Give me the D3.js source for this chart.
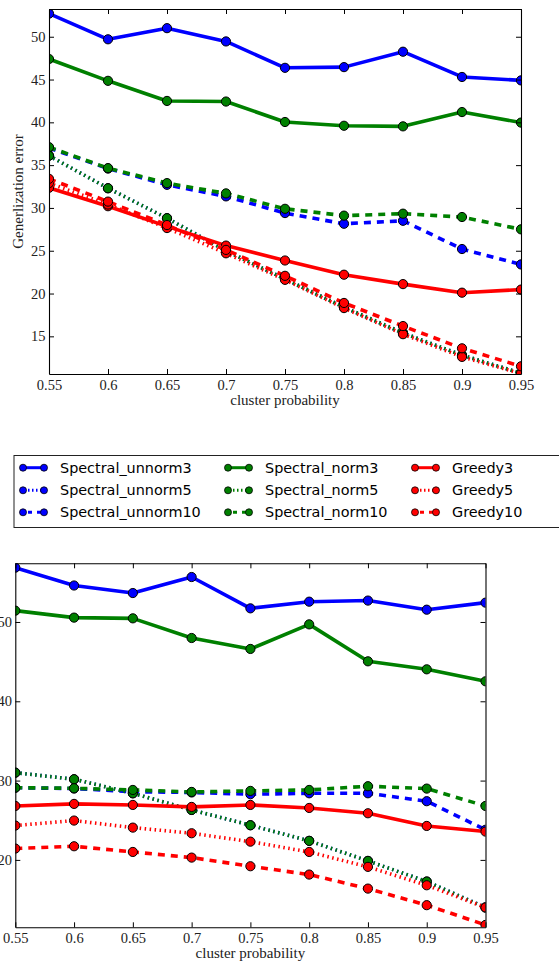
<!DOCTYPE html>
<html>
<head>
<meta charset="utf-8">
<script src="https://cdn.jsdelivr.net/npm/d3@7"></script>
<style>
html, body { margin: 0; padding: 0; background: #fff; }
svg { display: block; }
</style>
</head>
<body>
<svg id="chart" width="559" height="964"></svg>
<script>
// ---------- data ----------
const probs = [0.55, 0.6, 0.65, 0.7, 0.75, 0.8, 0.85, 0.9, 0.95];
const xTickLabels = ["0.55", "0.6", "0.65", "0.7", "0.75", "0.8", "0.85", "0.9", "0.95"];
const topYTicks = [15, 20, 25, 30, 35, 40, 45, 50];
const bottomYTicks = [20, 30, 40, 50];
const seriesNames = ["Spectral_unnorm3", "Spectral_unnorm5", "Spectral_unnorm10",
                     "Spectral_norm3", "Spectral_norm5", "Spectral_norm10",
                     "Greedy3", "Greedy5", "Greedy10"];

// top panel
const topUnnorm3  = [52.7, 49.7, 51.0, 49.45, 46.37, 46.45, 48.25, 45.3, 44.9];
const topUnnorm5  = [36.1, 32.3, 28.8, 25.0, 21.7, 18.4, 15.4, 12.8, 10.7];
const topUnnorm10 = [37.0, 34.6, 32.7, 31.35, 29.4, 28.15, 28.5, 25.2, 23.4];
const topNorm3    = [47.4, 44.85, 42.5, 42.43, 40.04, 39.6, 39.53, 41.2, 39.97];
const topNorm5    = [36.1, 32.3, 28.8, 25.0, 21.7, 18.4, 15.4, 12.8, 10.7];
const topNorm10   = [37.1, 34.65, 32.9, 31.7, 29.9, 29.1, 29.33, 28.94, 27.5];
const topGreedy3  = [32.35, 30.2, 27.85, 25.6, 23.86, 22.2, 21.1, 20.1, 20.46];
const topGreedy5  = [32.9, 30.4, 27.65, 24.7, 21.6, 18.3, 15.25, 12.6, 10.65];
const topGreedy10 = [33.4, 30.74, 28.0, 25.1, 22.07, 18.9, 16.2, 13.6, 11.5];

// bottom panel
const botUnnorm3  = [56.85, 54.6, 53.65, 55.67, 51.72, 52.56, 52.7, 51.55, 52.44];
const botUnnorm5  = [31.0, 30.17, 28.4, 26.3, 24.37, 22.4, 19.87, 17.27, 14.0];
const botUnnorm10 = [29.1, 29.0, 28.6, 28.5, 28.28, 28.4, 28.4, 27.4, 23.8];
const botNorm3    = [51.43, 50.55, 50.46, 47.98, 46.6, 49.7, 45.04, 44.03, 42.52];
const botNorm5    = [31.0, 30.17, 28.4, 26.3, 24.37, 22.4, 19.87, 17.27, 14.0];
const botNorm10   = [29.1, 29.03, 28.82, 28.57, 28.7, 28.82, 29.29, 28.99, 26.8];
const botGreedy3  = [26.8, 27.06, 26.93, 26.68, 26.93, 26.55, 25.88, 24.28, 23.57];
const botGreedy5  = [24.33, 24.96, 24.07, 23.36, 22.3, 21.0, 19.12, 16.8, 14.0];
const botGreedy10 = [21.43, 21.72, 21.0, 20.29, 19.2, 18.15, 16.38, 14.29, 11.8];

// ---------- styles ----------
const seriesColors = ["#0000ff", "#0000ff", "#0000ff", "#008000", "#008000", "#008000", "#ff0000", "#ff0000", "#ff0000"];
const seriesDash = [null, "1.5,3.5", "7,6", null, "1.5,3.5", "7,6", null, "1.5,3.5", "7,6"];
const serifFont = "'Liberation Serif', 'Times New Roman', serif";
const sansFont = "'DejaVu Sans', sans-serif";

const svg = d3.select("#chart");

function drawPanel(cfg) {
  const x = d3.scaleLinear().domain([0.55, 0.95]).range([cfg.left, cfg.right]);
  const y = d3.scaleLinear().domain(cfg.yDomain).range([cfg.bottom, cfg.top]);
  const g = svg.append("g");

  const clipId = "clip" + cfg.id;
  g.append("clipPath").attr("id", clipId)
    .append("rect")
    .attr("x", cfg.left).attr("y", cfg.top)
    .attr("width", cfg.right - cfg.left).attr("height", cfg.bottom - cfg.top);

  const plot = g.append("g").attr("clip-path", "url(#" + clipId + ")");
  const line = d3.line().x((d, i) => x(probs[i])).y(d => y(d));

  cfg.series.forEach((vals, si) => {
    const s = plot.append("g");
    const p = s.append("path").datum(vals)
      .attr("d", line)
      .attr("fill", "none")
      .attr("stroke", seriesColors[si])
      .attr("stroke-width", 3.6)
      .attr("stroke-linejoin", "round");
    if (seriesDash[si]) p.attr("stroke-dasharray", seriesDash[si]);
    s.selectAll("circle").data(vals).enter().append("circle")
      .attr("cx", (d, i) => x(probs[i]))
      .attr("cy", d => y(d))
      .attr("r", 4.6)
      .attr("fill", seriesColors[si])
      .attr("stroke", "#000")
      .attr("stroke-width", 1);
  });

  const fmt = (d) => xTickLabels[probs.findIndex(p => Math.abs(p - d) < 1e-9)];

  const axB = g.append("g").attr("transform", `translate(0,${cfg.bottom})`)
    .call(d3.axisBottom(x).tickValues(probs).tickFormat(fmt).tickSizeInner(-5).tickSizeOuter(0).tickPadding(5.6));
  const axT = g.append("g").attr("transform", `translate(0,${cfg.top})`)
    .call(d3.axisTop(x).tickValues(probs).tickFormat("").tickSizeInner(-5).tickSizeOuter(0));
  const axL = g.append("g").attr("transform", `translate(${cfg.left},0)`)
    .call(d3.axisLeft(y).tickValues(cfg.yTicks).tickFormat(d3.format("d")).tickSizeInner(-5).tickSizeOuter(0).tickPadding(3.4));
  const axR = g.append("g").attr("transform", `translate(${cfg.right},0)`)
    .call(d3.axisRight(y).tickValues(cfg.yTicks).tickFormat("").tickSizeInner(-5).tickSizeOuter(0));

  [axB, axT, axL, axR].forEach(a => {
    a.attr("font-family", serifFont).attr("font-size", 14.5);
    a.selectAll("text").attr("fill", "#222");
    a.select(".domain").attr("stroke", "#000").attr("stroke-width", 1.1);
    a.selectAll(".tick line").attr("stroke", "#000").attr("stroke-width", 1);
  });

  g.append("text")
    .attr("x", (cfg.left + cfg.right) / 2)
    .attr("y", cfg.bottom + 31)
    .attr("text-anchor", "middle")
    .attr("font-family", serifFont)
    .attr("font-size", 15)
    .attr("fill", "#222")
    .text("cluster probability");

  if (cfg.yLabel) {
    g.append("text")
      .attr("transform", `translate(${cfg.left - 26},${(cfg.top + cfg.bottom) / 2}) rotate(-90)`)
      .attr("text-anchor", "middle")
      .attr("font-family", serifFont)
      .attr("font-size", 15)
      .attr("fill", "#222")
      .text(cfg.yLabel);
  }
}

drawPanel({
  id: "top", left: 49, right: 521, top: 9, bottom: 374,
  yDomain: [10.6, 53.24], yTicks: topYTicks, yLabel: "Generlization error",
  series: [topUnnorm3, topUnnorm5, topUnnorm10, topNorm3, topNorm5, topNorm10, topGreedy3, topGreedy5, topGreedy10]
});

drawPanel({
  id: "bottom", left: 15.3, right: 485.5, top: 563.3, bottom: 927.3,
  yDomain: [11.5, 57.4], yTicks: bottomYTicks, yLabel: null,
  series: [botUnnorm3, botUnnorm5, botUnnorm10, botNorm3, botNorm5, botNorm10, botGreedy3, botGreedy5, botGreedy10]
});

// ---------- legend ----------
const legend = svg.append("g");
legend.append("rect")
  .attr("x", 14).attr("y", 455.5).attr("width", 560).attr("height", 72)
  .attr("fill", "#fff").attr("stroke", "#222").attr("stroke-width", 1);

const colX = [23, 228, 415];
const rowY = [467.7, 490.3, 512.3];
seriesNames.forEach((name, i) => {
  const c = Math.floor(i / 3), r = i % 3;
  const x0 = colX[c], yy = rowY[r];
  const item = legend.append("g");
  const ln = item.append("line")
    .attr("x1", x0).attr("x2", x0 + 21).attr("y1", yy).attr("y2", yy)
    .attr("stroke", seriesColors[i]).attr("stroke-width", 3);
  if (seriesDash[i]) ln.attr("stroke-dasharray", seriesDash[i] === "7,6" ? "4,5" : "1.5,2.5").attr("stroke-dashoffset", -5);
  [x0, x0 + 21].forEach(cx => item.append("circle")
    .attr("cx", cx).attr("cy", yy).attr("r", 3.5)
    .attr("fill", seriesColors[i]).attr("stroke", "#000").attr("stroke-width", 0.8));
  item.append("text")
    .attr("x", x0 + 37).attr("y", yy + 5)
    .attr("font-family", sansFont).attr("font-size", 14.4)
    .attr("fill", "#000")
    .text(name);
});
</script>
</body>
</html>
